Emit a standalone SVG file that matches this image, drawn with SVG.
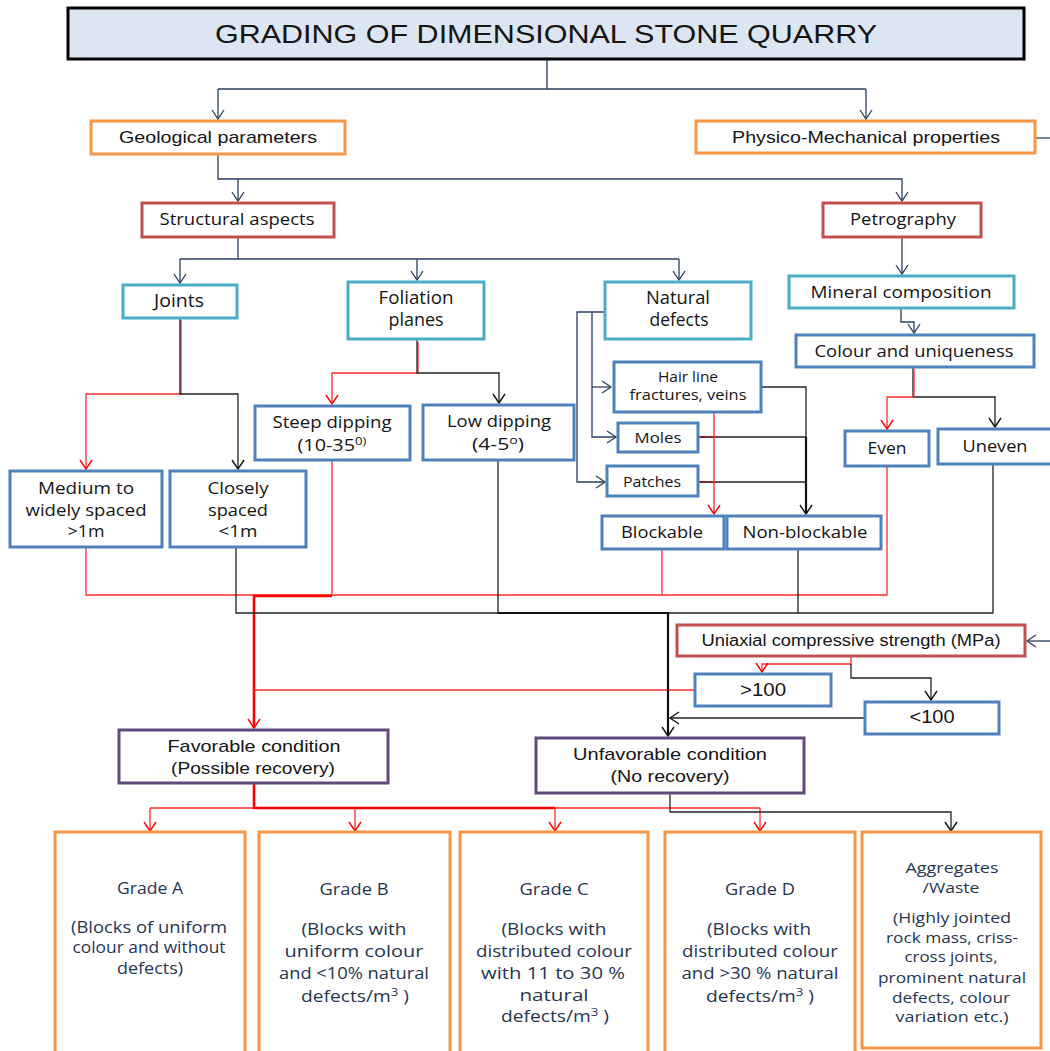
<svg xmlns="http://www.w3.org/2000/svg" width="1050" height="1051" viewBox="0 0 1050 1051">
  <style>
    .box{fill:#fff;stroke-width:3}
    .or{stroke:#f79646}
    .rd{stroke:#c0504d}
    .cy{stroke:#4bacc6}
    .bl{stroke:#4f81bd}
    .pu{stroke:#604a7b}
    .t{font-family:"Open Sans","DejaVu Sans",sans-serif;fill:#141414;text-anchor:middle}
    .c{font-family:"Liberation Sans Narrow","Liberation Sans",Arial,sans-serif;fill:#141414;text-anchor:middle}
    .g{font-family:"Open Sans","DejaVu Sans",sans-serif;fill:#1f3552;text-anchor:middle;font-size:16px}
    .g.s{font-size:14.5px}
    .nv{stroke:#2a3f5f;stroke-width:1.3;fill:none}
    .r{stroke:#ff2a2a;stroke-width:1.3;fill:none}
    .R{stroke:#ff0000;stroke-width:2.6;fill:none}
    .k{stroke:#222;stroke-width:1.3;fill:none}
    .K{stroke:#111;stroke-width:2.2;fill:none}
  </style>
  <defs>
    <marker id="aN" viewBox="0 0 10 12" refX="9" refY="6" markerWidth="10" markerHeight="12" markerUnits="userSpaceOnUse" orient="auto" overflow="visible">
      <path d="M0,0 L9,6 L0,12" fill="none" stroke="#2a3f5f" stroke-width="1.3"/>
    </marker>
    <marker id="aR" viewBox="0 0 10 12" refX="9" refY="6" markerWidth="10" markerHeight="12" markerUnits="userSpaceOnUse" orient="auto" overflow="visible">
      <path d="M0,0 L9,6 L0,12" fill="none" stroke="#ff0000" stroke-width="1.4"/>
    </marker>
    <marker id="aK" viewBox="0 0 10 12" refX="9" refY="6" markerWidth="10" markerHeight="12" markerUnits="userSpaceOnUse" orient="auto" overflow="visible">
      <path d="M0,0 L9,6 L0,12" fill="none" stroke="#111" stroke-width="1.4"/>
    </marker>
  </defs>

  <rect width="1050" height="1051" fill="#fff"/>

  <!-- connectors -->
  <g id="connectors">
    <!-- top tree -->
    <path class="nv" d="M547,60 V89 M218,89 H866"/>
    <path class="nv" d="M218,89 V119" marker-end="url(#aN)"/>
    <path class="nv" d="M866,89 V119" marker-end="url(#aN)"/>
    <path class="nv" d="M218,155 V179 H902 V201" marker-end="url(#aN)"/>
    <path class="nv" d="M238,179 V201" marker-end="url(#aN)"/>
    <path class="nv" d="M238,238 V259 M180,259 H679"/>
    <path class="nv" d="M180,259 V283" marker-end="url(#aN)"/>
    <path class="nv" d="M417,259 V280" marker-end="url(#aN)"/>
    <path class="nv" d="M679,259 V280" marker-end="url(#aN)"/>
    <path class="nv" d="M902,238 V274" marker-end="url(#aN)"/>
    <path class="nv" d="M901,309 V322 H914 V333" marker-end="url(#aN)"/>
    <!-- natural defects branches -->
    <path class="nv" d="M605,312 H577 V482 H605" marker-end="url(#aN)"/>
    <path class="nv" d="M592,312 V437 H616" marker-end="url(#aN)"/>
    <path class="nv" d="M592,387 H611" marker-end="url(#aN)"/>
    <!-- off-page links on the right -->
    <path class="nv" d="M1036,138 H1050"/>
    <path class="nv" d="M1050,641 H1027" marker-end="url(#aN)"/>

    <!-- joints split -->
    <path class="r" d="M181,320 V394 H86 V469" marker-end="url(#aR)"/>
    <path class="k" d="M180,318 V394 H238 V469" marker-end="url(#aK)"/>
    <!-- foliation split -->
    <path class="r" d="M418,342 V373 H332 V404" marker-end="url(#aR)"/>
    <path class="k" d="M417,340 V373 H499 V403" marker-end="url(#aK)"/>
    <!-- colour split -->
    <path class="k" d="M913,368 V397 H995 V427" marker-end="url(#aK)"/>
    <path class="r" d="M914,369 V397 H887 V429" marker-end="url(#aR)"/>

    <!-- defects to blockability -->
    <path class="k" d="M761,387 H806 V437"/>
    <path class="k" d="M699,437 H806 M699,482 H806"/>
    <path class="K" d="M806,437 V514" marker-end="url(#aK)"/>
    <path stroke="#8b1a1a" stroke-width="1.3" fill="none" d="M699,437 H714 M699,482 H714"/>
    <path class="r" d="M714,413 V514" marker-end="url(#aR)"/>

    <!-- red collector (favorable) -->
    <path class="r" d="M86,548 V595 H887 V467"/>
    <path class="r" d="M332,461 V595 M662,550 V595"/>
    <path class="R" d="M332,596 H254 V728" marker-end="url(#aR)"/>
    <path class="r" d="M695,690 H254"/>

    <!-- black collector (unfavorable) -->
    <path class="k" d="M236,548 V613 H993 V465"/>
    <path class="k" d="M498,461 V613 M798,550 V613"/>
    <path class="K" d="M498,613 H668 V736" marker-end="url(#aK)"/>

    <!-- UCS split -->
    <path class="r" d="M851,657 V664 H762 V672" marker-end="url(#aR)"/>
    <path class="k" d="M851,664 V678 H931 V700" marker-end="url(#aK)"/>
    <path class="k" d="M865,718 H670" marker-end="url(#aK)"/>

    <!-- to grades -->
    <path class="r" d="M150,808 H760"/>
    <path class="R" d="M254,784 V808 H555"/>
    <path class="r" d="M150,808 V831" marker-end="url(#aR)"/>
    <path class="r" d="M355,808 V831" marker-end="url(#aR)"/>
    <path class="r" d="M555,808 V831" marker-end="url(#aR)"/>
    <path class="r" d="M760,808 V831" marker-end="url(#aR)"/>
    <path class="k" d="M670,794 V812 H951 V831" marker-end="url(#aK)"/>
  </g>

  <!-- nodes -->
  <g id="title">
    <rect x="68" y="8" width="956" height="51" fill="#dce6f2" stroke="#000" stroke-width="3"/>
    <text class="c" x="546" y="43" font-size="26" textLength="662" lengthAdjust="spacingAndGlyphs">GRADING OF DIMENSIONAL STONE QUARRY</text>
  </g>
  <g id="geological">
    <rect class="box or" x="91" y="121" width="254" height="33"/>
    <text class="c" x="218" y="143" font-size="17" textLength="198" lengthAdjust="spacingAndGlyphs">Geological parameters</text>
  </g>
  <g id="physico">
    <rect class="box or" x="696" y="121" width="339" height="32"/>
    <text class="c" x="866" y="143" font-size="17" textLength="268" lengthAdjust="spacingAndGlyphs">Physico-Mechanical properties</text>
  </g>
  <g id="structural">
    <rect class="box rd" x="142" y="203" width="192" height="34"/>
    <text class="t" x="237" y="225" font-size="17" textLength="155" lengthAdjust="spacingAndGlyphs">Structural aspects</text>
  </g>
  <g id="petrography">
    <rect class="box rd" x="823" y="203" width="158" height="34"/>
    <text class="t" x="903" y="225" font-size="17" textLength="106" lengthAdjust="spacingAndGlyphs">Petrography</text>
  </g>
  <g id="joints">
    <rect class="box cy" x="123" y="285" width="114" height="33"/>
    <text class="t" x="179" y="307" font-size="17.5" textLength="50" lengthAdjust="spacingAndGlyphs">Joints</text>
  </g>
  <g id="foliation">
    <rect class="box cy" x="348" y="282" width="136" height="57"/>
    <text class="t" x="416" y="304" font-size="17.5" textLength="75" lengthAdjust="spacingAndGlyphs">Foliation</text>
    <text class="t" x="416" y="326" font-size="17.5" textLength="55" lengthAdjust="spacingAndGlyphs">planes</text>
  </g>
  <g id="natural-defects">
    <rect class="box cy" x="605" y="282" width="146" height="57"/>
    <text class="t" x="678" y="304" font-size="17.5" textLength="64" lengthAdjust="spacingAndGlyphs">Natural</text>
    <text class="t" x="679" y="326" font-size="17.5" textLength="59" lengthAdjust="spacingAndGlyphs">defects</text>
  </g>
  <g id="mineral">
    <rect class="box cy" x="789" y="276" width="225" height="32"/>
    <text class="t" x="901" y="298" font-size="17" textLength="181" lengthAdjust="spacingAndGlyphs">Mineral composition</text>
  </g>
  <g id="colour">
    <rect class="box bl" x="796" y="335" width="238" height="32"/>
    <text class="t" x="914" y="357" font-size="17" textLength="199" lengthAdjust="spacingAndGlyphs">Colour and uniqueness</text>
  </g>
  <g id="hairline">
    <rect class="box bl" x="614" y="362" width="147" height="50"/>
    <text class="t" x="688" y="382" font-size="14" textLength="60" lengthAdjust="spacingAndGlyphs">Hair line</text>
    <text class="t" x="688" y="400" font-size="14" textLength="117" lengthAdjust="spacingAndGlyphs">fractures, veins</text>
  </g>
  <g id="moles">
    <rect class="box bl" x="618" y="423" width="80" height="29"/>
    <text class="t" x="658" y="443" font-size="15" textLength="47" lengthAdjust="spacingAndGlyphs">Moles</text>
  </g>
  <g id="patches">
    <rect class="box bl" x="607" y="466" width="91" height="30"/>
    <text class="t" x="652" y="487" font-size="15" textLength="58" lengthAdjust="spacingAndGlyphs">Patches</text>
  </g>
  <g id="blockable">
    <rect class="box bl" x="602" y="516" width="122" height="33"/>
    <text class="t" x="662" y="538" font-size="16.5" textLength="82" lengthAdjust="spacingAndGlyphs">Blockable</text>
  </g>
  <g id="non-blockable">
    <rect class="box bl" x="727" y="516" width="154" height="33"/>
    <text class="t" x="805" y="538" font-size="16.5" textLength="125" lengthAdjust="spacingAndGlyphs">Non-blockable</text>
  </g>
  <g id="even">
    <rect class="box bl" x="845" y="431" width="84" height="35"/>
    <text class="t" x="887" y="454" font-size="16.5" textLength="39" lengthAdjust="spacingAndGlyphs">Even</text>
  </g>
  <g id="uneven">
    <rect class="box bl" x="938" y="429" width="120" height="35"/>
    <text class="t" x="995" y="452" font-size="16.5" textLength="65" lengthAdjust="spacingAndGlyphs">Uneven</text>
  </g>
  <g id="medium">
    <rect class="box bl" x="10" y="471" width="152" height="76"/>
    <text class="t" x="86" y="494" font-size="16.5" textLength="96" lengthAdjust="spacingAndGlyphs">Medium to</text>
    <text class="t" x="86" y="516" font-size="16.5" textLength="121" lengthAdjust="spacingAndGlyphs">widely spaced</text>
    <text class="t" x="86" y="537" font-size="16.5" textLength="37" lengthAdjust="spacingAndGlyphs">&gt;1m</text>
  </g>
  <g id="closely">
    <rect class="box bl" x="170" y="471" width="136" height="76"/>
    <text class="t" x="238" y="494" font-size="16.5" textLength="61" lengthAdjust="spacingAndGlyphs">Closely</text>
    <text class="t" x="238" y="516" font-size="16.5" textLength="60" lengthAdjust="spacingAndGlyphs">spaced</text>
    <text class="t" x="238" y="537" font-size="16.5" textLength="39" lengthAdjust="spacingAndGlyphs">&lt;1m</text>
  </g>
  <g id="steep">
    <rect class="box bl" x="255" y="406" width="155" height="54"/>
    <text class="t" x="332" y="428" font-size="16.5" textLength="119" lengthAdjust="spacingAndGlyphs">Steep dipping</text>
    <text class="t" x="332" y="451" font-size="16.5" textLength="69" lengthAdjust="spacingAndGlyphs">(10-35<tspan font-size="11" dy="-6">0)</tspan></text>
  </g>
  <g id="low">
    <rect class="box bl" x="423" y="405" width="151" height="55"/>
    <text class="t" x="499" y="427" font-size="16.5" textLength="104" lengthAdjust="spacingAndGlyphs">Low dipping</text>
    <text class="t" x="498" y="450" font-size="16.5" textLength="52" lengthAdjust="spacingAndGlyphs">(4-5<tspan font-size="11" dy="-6">o</tspan><tspan dy="6">)</tspan></text>
  </g>
  <g id="ucs">
    <rect class="box rd" x="677" y="625" width="348" height="31"/>
    <text class="c" x="851" y="646" font-size="16" textLength="299" lengthAdjust="spacingAndGlyphs">Uniaxial compressive strength (MPa)</text>
  </g>
  <g id="gt100">
    <rect class="box bl" x="695" y="674" width="136" height="32"/>
    <text class="c" x="763" y="696" font-size="18" textLength="46" lengthAdjust="spacingAndGlyphs">&gt;100</text>
  </g>
  <g id="lt100">
    <rect class="box bl" x="865" y="702" width="134" height="32"/>
    <text class="c" x="932" y="723" font-size="18" textLength="45" lengthAdjust="spacingAndGlyphs">&lt;100</text>
  </g>
  <g id="favorable">
    <rect class="box pu" x="119" y="730" width="269" height="53"/>
    <text class="c" x="254" y="752" font-size="17" textLength="173" lengthAdjust="spacingAndGlyphs">Favorable condition</text>
    <text class="c" x="253" y="774" font-size="17" textLength="164" lengthAdjust="spacingAndGlyphs">(Possible recovery)</text>
  </g>
  <g id="unfavorable">
    <rect class="box pu" x="536" y="738" width="268" height="55"/>
    <text class="c" x="670" y="760" font-size="17" textLength="194" lengthAdjust="spacingAndGlyphs">Unfavorable condition</text>
    <text class="c" x="670" y="782" font-size="17" textLength="119" lengthAdjust="spacingAndGlyphs">(No recovery)</text>
  </g>

  <g id="grade-a">
    <rect class="box or" x="55" y="832" width="190" height="222"/>
    <text class="g" x="150" y="894" textLength="66" lengthAdjust="spacingAndGlyphs">Grade A</text>
    <text class="g" x="149" y="933" textLength="156" lengthAdjust="spacingAndGlyphs">(Blocks of uniform</text>
    <text class="g" x="149" y="953" textLength="153" lengthAdjust="spacingAndGlyphs">colour and without</text>
    <text class="g" x="150" y="974" textLength="66" lengthAdjust="spacingAndGlyphs">defects)</text>
  </g>
  <g id="grade-b">
    <rect class="box or" x="259" y="832" width="191" height="222"/>
    <text class="g" x="354" y="895" textLength="69" lengthAdjust="spacingAndGlyphs">Grade B</text>
    <text class="g" x="354" y="935" textLength="105" lengthAdjust="spacingAndGlyphs">(Blocks with</text>
    <text class="g" x="354" y="957" textLength="139" lengthAdjust="spacingAndGlyphs">uniform colour</text>
    <text class="g" x="354" y="979" textLength="150" lengthAdjust="spacingAndGlyphs">and &lt;10% natural</text>
    <text class="g" x="355" y="1002" textLength="108" lengthAdjust="spacingAndGlyphs">defects/m<tspan font-size="11" dy="-6">3</tspan><tspan dy="6"> )</tspan></text>
  </g>
  <g id="grade-c">
    <rect class="box or" x="460" y="832" width="188" height="222"/>
    <text class="g" x="554" y="895" textLength="69" lengthAdjust="spacingAndGlyphs">Grade C</text>
    <text class="g" x="554" y="935" textLength="105" lengthAdjust="spacingAndGlyphs">(Blocks with</text>
    <text class="g" x="554" y="957" textLength="156" lengthAdjust="spacingAndGlyphs">distributed colour</text>
    <text class="g" x="553" y="979" textLength="144" lengthAdjust="spacingAndGlyphs">with 11 to 30 %</text>
    <text class="g" x="554" y="1001" textLength="69" lengthAdjust="spacingAndGlyphs">natural</text>
    <text class="g" x="555" y="1022" textLength="108" lengthAdjust="spacingAndGlyphs">defects/m<tspan font-size="11" dy="-6">3</tspan><tspan dy="6"> )</tspan></text>
  </g>
  <g id="grade-d">
    <rect class="box or" x="665" y="832" width="190" height="222"/>
    <text class="g" x="760" y="895" textLength="70" lengthAdjust="spacingAndGlyphs">Grade D</text>
    <text class="g" x="759" y="935" textLength="104" lengthAdjust="spacingAndGlyphs">(Blocks with</text>
    <text class="g" x="760" y="957" textLength="156" lengthAdjust="spacingAndGlyphs">distributed colour</text>
    <text class="g" x="760" y="979" textLength="157" lengthAdjust="spacingAndGlyphs">and &gt;30 % natural</text>
    <text class="g" x="760" y="1002" textLength="108" lengthAdjust="spacingAndGlyphs">defects/m<tspan font-size="11" dy="-6">3</tspan><tspan dy="6"> )</tspan></text>
  </g>
  <g id="aggregates">
    <rect class="box or" x="862" y="832" width="179" height="216"/>
    <text class="g s" x="952" y="873" textLength="93" lengthAdjust="spacingAndGlyphs">Aggregates</text>
    <text class="g s" x="951" y="893" textLength="57" lengthAdjust="spacingAndGlyphs">/Waste</text>
    <text class="g s" x="952" y="923" textLength="118" lengthAdjust="spacingAndGlyphs">(Highly jointed</text>
    <text class="g s" x="952" y="943" textLength="132" lengthAdjust="spacingAndGlyphs">rock mass, criss-</text>
    <text class="g s" x="951" y="962" textLength="93" lengthAdjust="spacingAndGlyphs">cross joints,</text>
    <text class="g s" x="952" y="983" textLength="148" lengthAdjust="spacingAndGlyphs">prominent natural</text>
    <text class="g s" x="951" y="1003" textLength="118" lengthAdjust="spacingAndGlyphs">defects, colour</text>
    <text class="g s" x="952" y="1022" textLength="113" lengthAdjust="spacingAndGlyphs">variation etc.)</text>
  </g>
</svg>
